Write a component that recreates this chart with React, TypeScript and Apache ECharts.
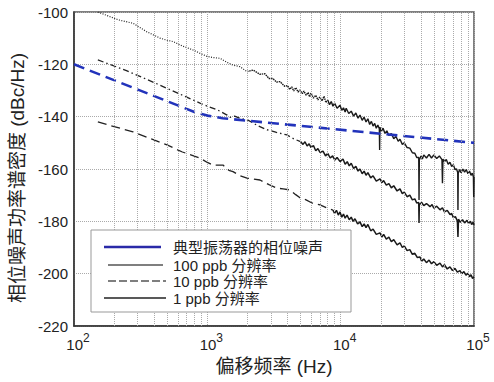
import React, { useEffect, useRef } from "react";
import * as echarts from "echarts";

// ---- Data (frequency in Hz, value in dBc/Hz) ----
const typicalOsc: [number, number][] = [
  [100, -120], [800, -138.2], [1000, -139.6], [1300, -140.6], [100000, -150],
];

const res100Low: [number, number][] = [
  [151, -100], [180, -101.5], [215, -103], [277, -104.3], [350, -107.5], [442, -110],
  [500, -110.8], [553, -111.3], [650, -113], [780, -114.5], [900, -116], [1000, -117],
  [1100, -117.4], [1245, -117.7], [1400, -119.2], [1558, -120.3], [1758, -120.9],
  [1984, -122.8],
];
const res100Mid: [number, number][] = [
  [1984, -122.8], [2200, -122.2], [2483, -123.8], [2700, -123.6], [2900, -125.4],
  [3100, -125.4], [3300, -126.8], [3508, -126.6], [3800, -128.4], [4000, -128.1],
  [4150, -129.6], [4300, -128.6], [4450, -130.2], [4600, -128.9], [4800, -130.6],
  [4955, -129.8], [5150, -131.2], [5300, -130.2], [5500, -131.8], [5700, -130.8],
  [5850, -132.4], [6000, -130.9], [6250, -132.9], [6500, -131.8], [6750, -133.6],
  [7000, -132.4], [7250, -134], [7500, -132.2], [7750, -134.6], [8000, -133.6],
];
const res100High: [number, number][] = [
  [8000, -133.6], [8250, -135.4], [8500, -134.2], [8750, -136], [9000, -134.8],
  [9400, -136.8], [9886, -135.6], [10200, -137.6], [10500, -136.6], [10800, -138.2],
  [11000, -136.8], [11500, -138.8], [12000, -137.9], [12500, -139.8], [13000, -138.6],
  [13500, -140.6], [13960, -139.4], [14500, -141.4], [15000, -140.2], [15500, -142],
  [16000, -140.8], [16500, -143], [17000, -141.8], [17500, -143.6], [18000, -142.6],
  [18500, -144.4], [19000, -143.2], [19500, -144.6], [19600, -152.7], [19700, -144],
  [20200, -145.6], [20800, -144.4], [21500, -146.4], [22200, -145.4], [23000, -147.2],
  [24000, -146.4], [25000, -148.4], [26000, -147.6], [27000, -149.4], [27860, -148.6],
  [29000, -150.6], [30000, -150], [31500, -151.8], [33000, -152], [34500, -153.8],
  [36000, -154], [37200, -155.6], [38500, -155.6], [38700, -171.8], [38900, -156.6],
  [40000, -155], [41000, -156.2], [42000, -154.6], [44000, -155.8], [46000, -154.4],
  [48000, -155.8], [50000, -154.6], [52500, -156], [55000, -155], [57500, -156.4],
  [58000, -165.4], [58500, -156.2], [60000, -157.2], [62000, -156.4], [64000, -158.2],
  [66000, -157.4], [68000, -159], [70000, -158.4], [72000, -160.2], [74000, -160],
  [75500, -161.4], [75800, -175.7], [76200, -161.6], [78000, -160.2], [80000, -161.4],
  [82500, -160], [85000, -161.2], [87500, -160.2], [90000, -161.8], [92500, -160.8],
  [95000, -162.4], [97000, -161.6], [99000, -163], [99500, -170.7], [100000, -163],
];

const res10Low: [number, number][] = [
  [151, -118.3], [250, -122.5], [400, -127], [600, -131], [881, -134.8], [1000, -136],
  [1200, -137.5], [1406, -139.4], [1479, -140.3], [1600, -139.8], [1750, -140.6],
  [2018, -141.3], [2400, -143.5], [2802, -145], [3300, -146], [3958, -147], [4500, -148.6],
  [5000, -149.5],
];
const res10High: [number, number][] = [
  [5000, -149.5], [5219, -150.6], [5400, -149.6], [5600, -151.2], [5800, -150.4],
  [6000, -151.8], [6250, -151], [6500, -153], [6750, -152.2], [7000, -153.6],
  [7370, -153.2], [7700, -155], [8000, -154], [8350, -155.8], [8700, -155], [9050, -156.6],
  [9400, -155.6], [9900, -157.2], [10410, -156.2], [10800, -158.2], [11200, -157.2],
  [11600, -158.8], [12000, -157.8], [12500, -159.8], [13000, -159], [13500, -160.8],
  [13960, -160], [14500, -161.8], [15000, -160.8], [15500, -162.4], [16000, -161.4],
  [16800, -163.4], [17500, -162.6], [18500, -164.6], [19720, -163.8], [20400, -165.2],
  [21000, -164.4], [22000, -166.2], [23000, -165.6], [24000, -167.2], [25000, -166.4],
  [26500, -168.4], [27860, -167.6], [29000, -169.4], [30000, -168.8], [31500, -170.6],
  [33000, -170], [34500, -171.8], [36000, -171.4], [37200, -173], [38500, -172.8],
  [38700, -180.6], [38900, -173.6], [40500, -172.8], [42000, -174], [44000, -173.2],
  [46770, -174.4], [48500, -173.6], [50000, -175], [52500, -174.2], [55590, -175.6],
  [58000, -174.8], [60000, -176.4], [63000, -175.8], [66070, -177.4], [68000, -177],
  [70000, -178.6], [72500, -178.2], [75000, -179.8], [75800, -186], [76500, -179.2],
  [79000, -180.4], [82000, -179.4], [85000, -180.6], [88610, -179.6], [91000, -180.8],
  [94000, -180], [96000, -181.2], [98280, -180.4], [100000, -181.4],
];

const res1Low: [number, number][] = [
  [151, -142], [200, -143.8], [277, -145.8], [380, -148.5], [498, -150.8], [650, -153.5],
  [880, -155.8], [1000, -157.5], [1103, -158.5], [1245, -158.5], [1311, -158.5],
  [1450, -160.5], [1558, -161], [1750, -162.5], [1984, -163.5], [2200, -163.8],
  [2483, -164.2], [2900, -166], [3331, -167.3], [3700, -167.6], [4169, -168], [4600, -169.8],
  [4955, -171], [5500, -171.8], [6100, -173], [6998, -173.7], [7800, -174.8], [8760, -175.7],
];
const res1High: [number, number][] = [
  [8760, -175.7], [9000, -177], [9300, -175.8], [9600, -177.6], [9886, -176.4],
  [10200, -178.4], [10500, -177.2], [10800, -178.8], [11160, -177.6], [11600, -179.4],
  [12000, -178.4], [12400, -180], [12800, -179], [13400, -181], [13960, -180.2],
  [14500, -182], [15000, -181], [15500, -182.4], [16000, -181.2], [16800, -183.6],
  [17500, -183], [18500, -185], [19720, -184.4], [20400, -186], [21000, -185],
  [22000, -186.8], [23000, -186], [24000, -187.8], [25000, -187], [26500, -189],
  [27860, -188.2], [29000, -190], [30000, -189.4], [31500, -191.2], [33000, -190.8],
  [34500, -192.6], [36000, -192.2], [37500, -193.8], [39360, -193.6], [40500, -195.2],
  [42000, -194.4], [44000, -195.8], [46000, -194.8], [48000, -196.2], [50000, -195.4],
  [52500, -196.8], [55590, -196], [58000, -197.4], [60000, -196.6], [63000, -198.2],
  [66000, -197.4], [69000, -198.8], [72000, -198], [75000, -199.4], [78520, -198.8],
  [81000, -200], [84000, -199.2], [87000, -200.6], [90000, -199.8], [92500, -201.2],
  [95000, -200.4], [97500, -201.8], [100000, -201.2],
];

const minorTicks = [
  200, 300, 400, 500, 600, 700, 800, 900,
  2000, 3000, 4000, 5000, 6000, 7000, 8000, 9000,
  20000, 30000, 40000, 50000, 60000, 70000, 80000, 90000,
];

const legendLabels = ["典型振荡器的相位噪声", "100 ppb 分辨率", "10 ppb 分辨率", "1 ppb 分辨率"];
const xAxisTitle = "偏移频率 (Hz)";
const yAxisTitle = "相位噪声功率谱密度 (dBc/Hz)";

const FONT = "'Liberation Sans', Arial, 'Noto Sans CJK SC', sans-serif";

export default function App() {
  const ref = useRef<HTMLDivElement>(null);

  useEffect(() => {
    if (!ref.current) return;
    const chart = echarts.init(ref.current, undefined, { renderer: "svg" });

    const curve = (data: [number, number][], type: any, width: number, color: string) => ({
      type: "line",
      data,
      showSymbol: false,
      symbol: "none",
      lineStyle: { type, width, color },
      silent: true,
      z: 3,
    });

    const lx = 91, ly = 230;
    const legendRows = [
      { x1: 104, x2: 161, y: 247, color: "#2a2aa8", width: 2.5, dash: null as any },
      { x1: 108, x2: 163, y: 265, color: "#555", width: 1.5, dash: null as any },
      { x1: 108, x2: 166, y: 281, color: "#555", width: 1.5, dash: [8, 3] },
      { x1: 104, x2: 166, y: 298, color: "#222", width: 1.5, dash: null as any },
    ];
    const legendGraphics: any[] = [
      {
        type: "rect",
        shape: { x: lx, y: ly, width: 260, height: 82 },
        style: { fill: "#fff", stroke: "#999", lineWidth: 1 },
        z: 50,
      },
    ];
    legendRows.forEach((r, i) => {
      legendGraphics.push({
        type: "line",
        shape: { x1: r.x1, y1: r.y, x2: r.x2, y2: r.y },
        style: { stroke: r.color, lineWidth: r.width, lineDash: r.dash || undefined },
        z: 51,
      });
      legendGraphics.push({
        type: "text",
        x: 173,
        y: r.y,
        style: {
          text: legendLabels[i],
          font: `15px ${FONT}`,
          fill: "#222",
          textVerticalAlign: "middle",
          verticalAlign: "middle",
        },
        z: 51,
      });
    });

    chart.setOption({
      animation: false,
      backgroundColor: "#fff",
      grid: {
        left: 74, right: 20, top: 12, bottom: 56,
        show: true, borderColor: "#555", borderWidth: 1.5, backgroundColor: "transparent",
      },
      xAxis: {
        type: "log",
        logBase: 10,
        min: 100,
        max: 100000,
        name: xAxisTitle,
        nameLocation: "middle",
        nameGap: 27,
        nameTextStyle: { fontSize: 19, color: "#222", fontFamily: FONT },
        axisLine: { show: true, lineStyle: { color: "#333", width: 1.5 } },
        axisTick: { show: false },
        splitLine: { show: true, lineStyle: { type: "dotted", color: "#aaa", width: 1 } },
        axisLabel: {
          margin: 6,
          padding: [0, 0, 0, 8],
          formatter: (v: number) => `{b|10}{s|${Math.round(Math.log10(v))}}`,
          rich: {
            b: { fontSize: 15, fontFamily: FONT, color: "#222", lineHeight: 20, verticalAlign: "bottom" },
            s: { fontSize: 12, fontFamily: FONT, color: "#222", lineHeight: 12, verticalAlign: "top" },
          },
        },
      },
      yAxis: {
        type: "value",
        min: -220,
        max: -100,
        interval: 20,
        name: yAxisTitle,
        nameLocation: "middle",
        nameRotate: 90,
        nameGap: 40,
        nameTextStyle: { fontSize: 19, color: "#222", fontFamily: FONT, padding: [0, 18, 0, 0] },
        axisLine: { show: true, lineStyle: { color: "#333", width: 1.5 } },
        axisTick: { show: false },
        splitLine: { show: true, lineStyle: { type: "dotted", color: "#aaa", width: 1 } },
        axisLabel: { margin: 6, fontSize: 15, fontFamily: FONT, color: "#222" },
      },
      series: [
        {
          type: "line",
          data: [[100, -230]],
          showSymbol: false,
          symbol: "none",
          lineStyle: { width: 0 },
          silent: true,
          z: 1,
          markLine: {
            silent: true,
            symbol: ["none", "none"],
            label: { show: false },
            lineStyle: { type: "dotted", color: "#aaa", width: 1 },
            data: minorTicks.map((v) => ({ xAxis: v })),
            animation: false,
          },
        },
        curve(res100Low, [1, 1.5], 1.2, "#222"),
        curve(res100Mid, [1.5, 0.8], 1.4, "#1a1a1a"),
        curve(res100High, "solid", 1.4, "#1a1a1a"),
        curve(res10Low, [6, 3, 1.5, 3], 1.3, "#222"),
        curve(res10High, "solid", 1.5, "#1a1a1a"),
        curve(res1Low, [9, 5], 1.3, "#222"),
        curve(res1High, "solid", 1.5, "#1a1a1a"),
        {
          ...curve(typicalOsc, [11, 6], 2.6, "#2233bb"),
          z: 4,
        },
      ],
      graphic: legendGraphics,
    });

    return () => chart.dispose();
  }, []);

  return (
    <div
      ref={ref}
      style={{ position: "absolute", left: 0, top: 0, width: 494, height: 382, background: "#fff" }}
    />
  );
}
